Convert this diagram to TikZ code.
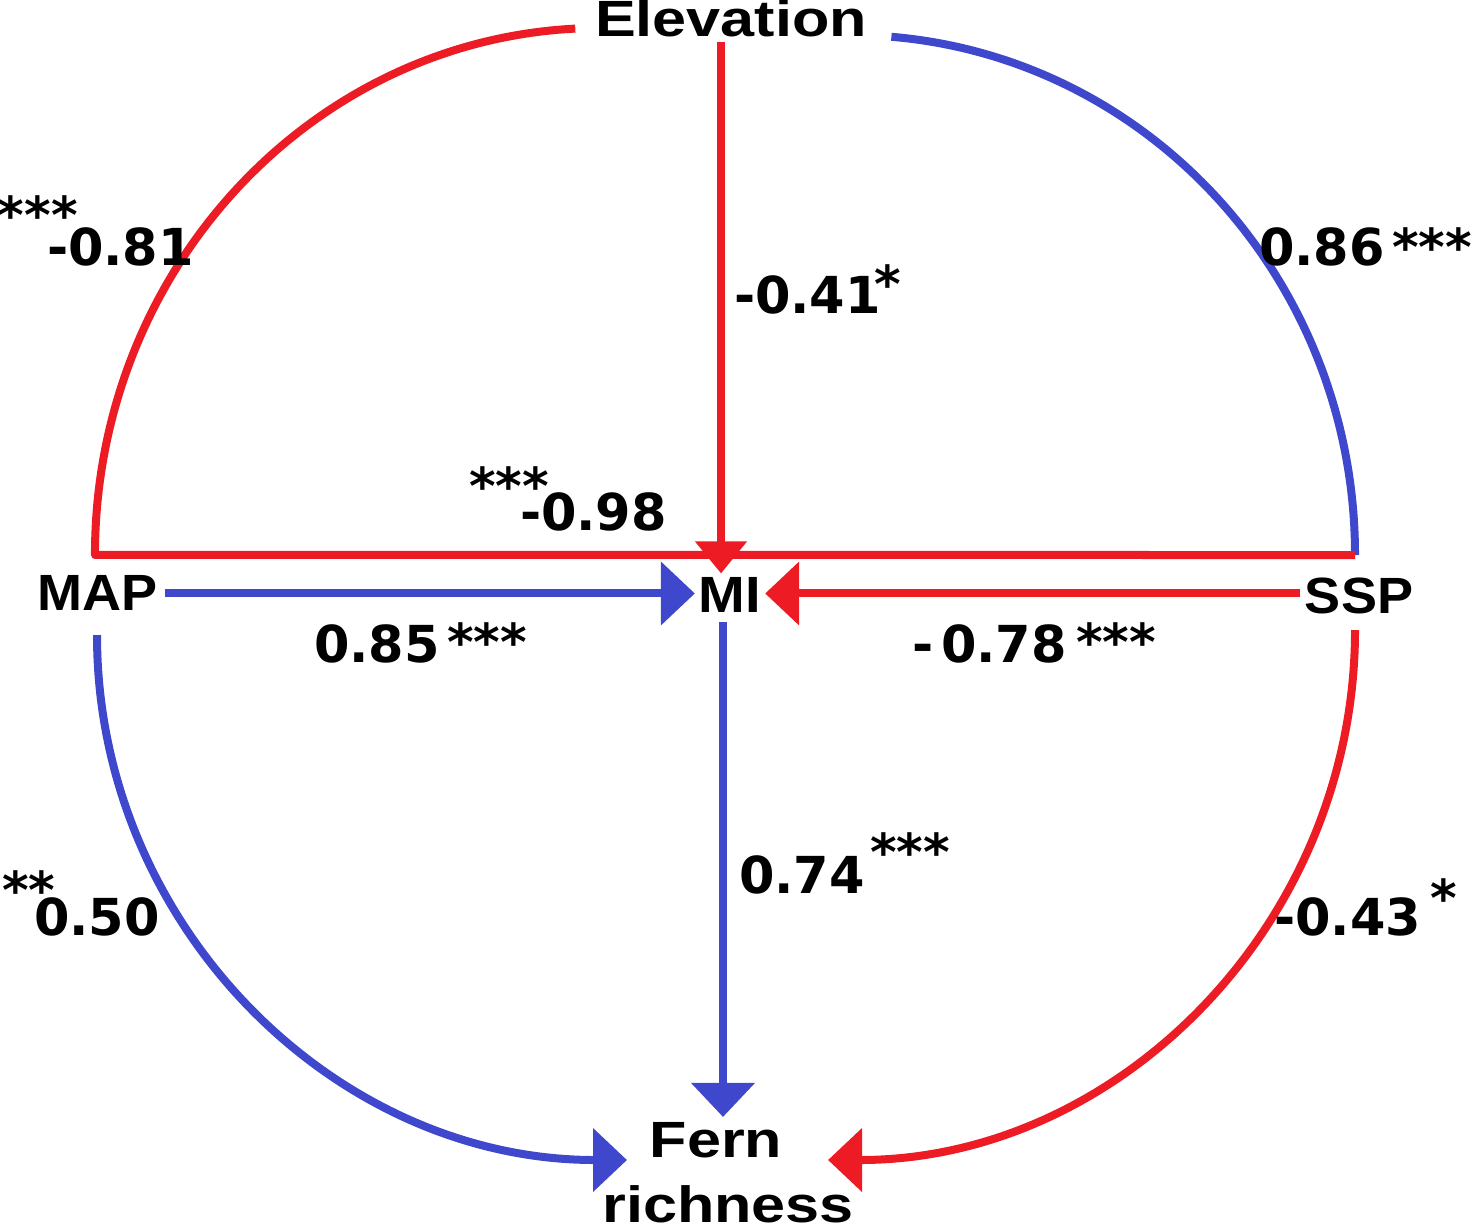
\documentclass[tikz,border=0pt]{standalone}
\usepackage{fontspec}
\setmainfont{Liberation Sans}
\newfontfamily\numfont{DejaVu Sans}
\usetikzlibrary{arrows.meta,calc}
\definecolor{pred}{RGB}{237,28,36}
\definecolor{pblue}{RGB}{63,72,204}
\begin{document}
\begin{tikzpicture}[
  var/.style={font=\fontsize{14.5}{17}\selectfont\bfseries, inner sep=0pt, outer sep=0pt, anchor=base},
  num/.style={font=\numfont\bfseries\fontsize{14.5}{17}\selectfont, inner sep=0pt, outer sep=0pt, anchor=base west},
  conn/.style={line width=0.08cm, line join=round},
  redc/.style={conn, draw=pred},
  bluec/.style={conn, draw=pblue},
  tipr/.style={-{Triangle[width=0.62cm,length=0.34cm,fill=pred,color=pred]}},
  tipb/.style={-{Triangle[width=0.62cm,length=0.34cm,fill=pblue,color=pblue]}},
]
\useasboundingbox (0,0) rectangle (14.76,-12.24);

% variable nodes
\node[var] (elev) at (7.31,-0.37) {\scalebox{1.2}[1]{Elevation}};
\node[var] (map)  at (0.975,-6.10) {\scalebox{1.06}[1]{MAP}};
\node[var] (mi)   at (7.30,-6.12) {\scalebox{1.1}[1]{MI}};
\node[var] (ssp)  at (13.59,-6.13) {\scalebox{1.06}[1]{SSP}};
\node[var] (fern) at (7.16,-11.57) {\scalebox{1.2}[1]{Fern}};
\node[var] (fernb) at (7.28,-12.22) {\scalebox{1.2}[1]{richness}};

% helper coordinates
\coordinate (vx) at (7.21,0);
\coordinate (vy) at (7.23,0);
\coordinate (mapTop) at (0.95,-5.55);
\coordinate (sspTop) at (13.55,-5.55);
\coordinate (elevL) at (5.753,-0.286);
\coordinate (mapBot) at (0.97,-6.35);
\coordinate (sspBot) at (13.55,-6.30);

% blue arc Elevation -- SSP
\draw[bluec] (sspTop) arc[start angle=0, end angle=85.3, x radius=5.05cm, y radius=5.20cm];
% red arc Elevation -- MAP and red line MAP -- SSP
\draw[redc] (elevL) arc[start angle=92.8, end angle=180, x radius=5.05cm, y radius=5.27cm] -- (sspTop);

% MAP -> MI
\draw[bluec, tipb] ($(map.east |- mi.west)+(0.07,0.01)$) -- ($(mi.west)+(-0.04,0.01)$);
% SSP -> MI
\draw[redc, tipr] ($(ssp.west |- mi.east)+(-0.05,0.01)$) -- ($(mi.east)+(0.04,0.01)$);
% Elevation -> MI
\draw[redc, -{Triangle[width=0.5cm,length=0.32cm,fill=pred,color=pred]}] ($(elev.south -| vx)+(0,-0.05)$) -- ($(mi.north -| vx)+(0,0.035)$);
% MI -> Fern richness
\draw[bluec, tipb] ($(mi.south -| vy)+(0,-0.10)$) -- ($(fern.north -| vy)+(0,0.05)$);
% MAP -> Fern richness
\draw[bluec, tipb] (mapBot) arc[start angle=180, end angle=270, x radius=5.30cm, y radius=5.25cm];
% SSP -> Fern richness
\draw[redc, tipr] (sspBot) arc[start angle=0, end angle=-90, x radius=5.27cm, y radius=5.30cm];

% coefficients
\node[num] (n081) at (0.47,-2.65) {-0.81};
\node[num] (s081) at (-0.02,-2.33) {***};
\node[num] (n086) at (12.59,-2.65) {0.86};
\node[num] (s086) at (13.92,-2.65) {***};
\node[num] (n041) at (7.34,-3.13) {-0.41};
\node[num] (s041) at (8.74,-3.02) {*};
\node[num] (n098) at (5.20,-5.30) {-0.98};
\node[num] (s098) at (4.69,-5.04) {***};
\node[num] (n085) at (3.14,-6.62) {0.85};
\node[num] (s085) at (4.47,-6.60) {***};
\node[num] (n078) at (9.12,-6.62) {-\kern0.08cm0.78};
\node[num] (s078) at (10.76,-6.60) {***};
\node[num] (n074) at (7.39,-8.93) {0.74};
\node[num] (s074) at (8.70,-8.70) {***};
\node[num] (n050) at (0.34,-9.35) {0.50};
\node[num] (s050) at (0.02,-9.08) {**};
\node[num] (n043) at (12.74,-9.35) {-0.43};
\node[num] (s043) at (14.30,-9.16) {*};
\end{tikzpicture}
\end{document}
